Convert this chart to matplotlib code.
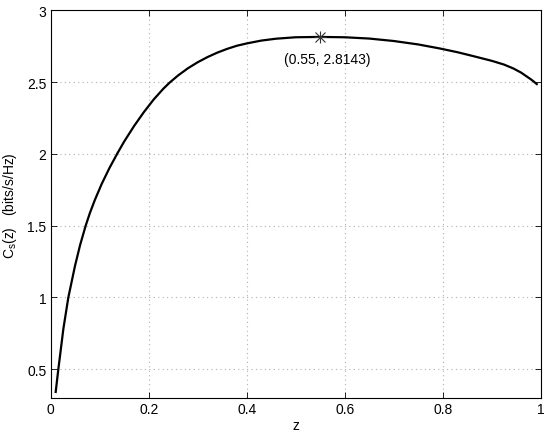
import matplotlib.pyplot as plt

plt.rcParams['font.family'] = ['Liberation Sans', 'DejaVu Sans']

# values
z = [0.0102, 0.0156, 0.020, 0.0258, 0.036, 0.0496, 0.060, 0.0714, 0.080, 0.090,
     0.104, 0.120, 0.136, 0.150, 0.170, 0.190, 0.210, 0.230, 0.243, 0.260,
     0.280, 0.300, 0.320, 0.340, 0.360, 0.380, 0.400, 0.430, 0.460, 0.500,
     0.550, 0.600, 0.650, 0.700, 0.750, 0.794, 0.830, 0.862, 0.900, 0.925,
     0.944, 0.960, 0.971, 0.980, 0.986, 0.992]
cs = [0.342, 0.50, 0.62, 0.78, 1.00, 1.22, 1.365, 1.50, 1.588, 1.678,
      1.790, 1.902, 2.003, 2.086, 2.193, 2.290, 2.378, 2.454, 2.497, 2.546,
      2.596, 2.638, 2.674, 2.705, 2.731, 2.753, 2.769, 2.789, 2.802, 2.812,
      2.8143, 2.812, 2.803, 2.786, 2.762, 2.734, 2.708, 2.681, 2.648, 2.622,
      2.595, 2.566, 2.540, 2.519, 2.503, 2.486]

peak_z = 0.55
peak_cs = 2.8143

xticks = [0, 0.2, 0.4, 0.6, 0.8, 1]
xlabels = ['0', '0.2', '0.4', '0.6', '0.8', '1']
yticks = [0.5, 1, 1.5, 2, 2.5, 3]
ylabels = ['0.5', '1', '1.5', '2', '2.5', '3']

fig = plt.figure(figsize=(5.54, 4.35), dpi=100)
ax = fig.add_axes([0.0915, 0.0828, 0.8845, 0.8913])

ax.plot(z, cs, color='black', linewidth=1.6, solid_joinstyle='round')
## asterisk marker at the peak
ax.plot(peak_z, peak_cs, marker='+', color='#333333', markersize=9,
        linestyle='none', markeredgewidth=0.8)
ax.plot(peak_z, peak_cs, marker='x', color='#333333', markersize=6.5,
        linestyle='none', markeredgewidth=0.8)
ax.text(0.565, 2.66, '(%.2f, %.4f)' % (peak_z, peak_cs), ha='center',
        va='center', fontsize=10)

ax.set_xlim(0, 1)
ax.set_ylim(0.3, 3)
ax.set_xticks(xticks)
ax.set_xticklabels(xlabels)
ax.set_yticks(yticks)
ax.set_yticklabels(ylabels)
ax.tick_params(direction='in', top=True, right=True, labelsize=10,
               length=4, width=0.6, pad=3)
ax.grid(True, linestyle=(0, (1, 3)), color='#b0b0b0', linewidth=0.8)
for s in ax.spines.values():
  s.set_linewidth(0.8)

ax.set_xlabel('z', fontsize=10, labelpad=1)
ax.set_ylabel(r'C$_\mathregular{s}$(z)   (bits/s/Hz)', fontsize=10, labelpad=6)

fig.savefig('out.png', dpi=100)
